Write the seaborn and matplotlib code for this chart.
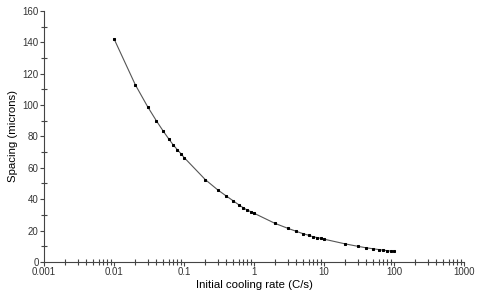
import matplotlib
matplotlib.use("Agg")
import matplotlib.pyplot as plt
import matplotlib.ticker as mticker
import seaborn as sns
import pandas as pd

# initial cooling rate (C/s) and dendrite arm spacing (microns)
cooling_rate = [0.01, 0.02, 0.03, 0.04, 0.05, 0.06, 0.07, 0.08, 0.09, 0.1,
                0.2, 0.3, 0.4, 0.5, 0.6, 0.7, 0.8, 0.9, 1,
                2, 3, 4, 5, 6, 7, 8, 9, 10,
                20, 30, 40, 50, 60, 70, 80, 90, 100]
spacing = [142, 113, 99, 90, 83.5, 78.5, 74.5, 71.5, 69, 66.5,
           52.5, 46, 42, 39, 36.5, 34.5, 33, 32, 31,
           24.5, 21.5, 19.5, 18, 17, 16, 15.5, 15, 14.5,
           11.5, 10, 9, 8.4, 7.9, 7.5, 7.2, 6.9, 6.7]
x_ticks = [0.001, 0.01, 0.1, 1, 10, 100, 1000]

df = pd.DataFrame({"rate": cooling_rate, "spacing": spacing})

sns.set_style("white")
plt.rcParams["font.family"] = ["Liberation Sans", "DejaVu Sans"]

fig = plt.figure(figsize=(4.8, 2.93), dpi=100)
ax = fig.add_axes([0.092, 0.106, 0.875, 0.857])

sns.lineplot(data=df, x="rate", y="spacing", ax=ax, color="#555555",
             linewidth=0.8, marker="s", markersize=1.8,
             markerfacecolor="black", markeredgecolor="black")

ax.set_xscale("log")
ax.set_xlim(0.001, 1000)
ax.set_ylim(0, 160)
ax.set_xticks(x_ticks)
ax.xaxis.set_major_formatter(mticker.FuncFormatter(lambda v, p: f"{v:g}"))
ax.xaxis.set_minor_locator(mticker.LogLocator(base=10, subs=range(2, 10), numticks=20))
ax.xaxis.set_minor_formatter(mticker.NullFormatter())
ax.yaxis.set_major_locator(mticker.MultipleLocator(20))
ax.yaxis.set_minor_locator(mticker.MultipleLocator(10))

sns.despine(ax=ax)
for side in ["left", "bottom"]:
    ax.spines[side].set_color("#444444")
    ax.spines[side].set_linewidth(0.8)

ax.tick_params(axis="both", which="both", bottom=True, left=True)
ax.tick_params(axis="both", which="major", direction="out", length=3,
               width=0.8, color="#444444", labelsize=7, labelcolor="#333333", pad=1)
ax.tick_params(axis="both", which="minor", direction="inout", length=4,
               width=0.8, color="#444444")

ax.set_xlabel("Initial cooling rate (C/s)", fontsize=8.2, color="black", labelpad=2)
ax.set_ylabel("Spacing (microns)", fontsize=8.2, color="black", labelpad=3)

fig.savefig("out.png", dpi=100)
